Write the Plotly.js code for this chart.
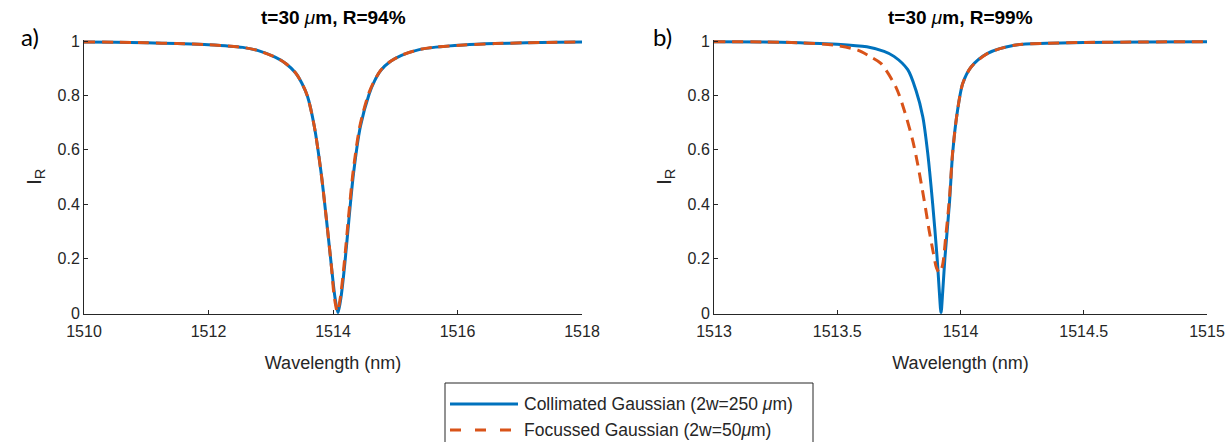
<!DOCTYPE html>
<html>
<head>
<meta charset="utf-8">
<script src="https://cdn.plot.ly/plotly-3.0.1.min.js"></script>
<style>html,body{margin:0;padding:0;background:#fff;}#chart{width:1228px;height:442px;}</style>
</head>
<body>
<div id="chart"></div>
<script>
// ---- Data ----
// Panel a) t=30 um, R=94%
var waveA_col = [1510, 1510.5, 1511, 1511.5, 1512, 1512.55, 1512.8, 1513.07, 1513.24, 1513.4, 1513.5, 1513.59, 1513.7, 1513.81, 1513.89, 1513.97, 1514.03, 1514.08, 1514.13, 1514.19, 1514.26, 1514.33, 1514.44, 1514.58, 1514.67, 1514.77, 1514.92, 1515.1, 1515.37, 1515.65, 1516.1, 1516.6, 1517.1, 1517.6, 1518];
var irA_col   = [0.997, 0.996, 0.994, 0.991, 0.987, 0.977, 0.965, 0.941, 0.918, 0.883, 0.845, 0.797, 0.686, 0.514, 0.354, 0.182, 0.06, 0.0, 0.06, 0.182, 0.354, 0.514, 0.686, 0.805, 0.855, 0.893, 0.925, 0.948, 0.968, 0.978, 0.986, 0.991, 0.994, 0.996, 0.997];
var waveA_foc = [1510, 1510.5, 1511, 1511.5, 1512, 1512.55, 1512.8, 1513.07, 1513.24, 1513.4, 1513.5, 1513.59, 1513.7, 1513.81, 1513.89, 1513.97, 1514.02, 1514.07, 1514.12, 1514.18, 1514.25, 1514.32, 1514.43, 1514.57, 1514.67, 1514.77, 1514.92, 1515.1, 1515.37, 1515.65, 1516.1, 1516.6, 1517.1, 1517.6, 1518];
var irA_foc   = [0.997, 0.996, 0.994, 0.991, 0.987, 0.977, 0.965, 0.941, 0.918, 0.883, 0.845, 0.797, 0.686, 0.514, 0.354, 0.182, 0.06, 0.005, 0.06, 0.182, 0.354, 0.514, 0.686, 0.805, 0.857, 0.894, 0.925, 0.948, 0.968, 0.978, 0.986, 0.991, 0.994, 0.996, 0.997];

// Panel b) t=30 um, R=99%
var waveB_col = [1513, 1513.2, 1513.35, 1513.5, 1513.62, 1513.69, 1513.73, 1513.786, 1513.819, 1513.847, 1513.867, 1513.887, 1513.905, 1513.914, 1513.921, 1513.928, 1513.937, 1513.955, 1513.968, 1513.986, 1514.009, 1514.043, 1514.11, 1514.218, 1514.35, 1514.5, 1514.75, 1515];
var irB_col   = [0.998, 0.997, 0.994, 0.989, 0.979, 0.962, 0.944, 0.895, 0.82, 0.722, 0.588, 0.402, 0.205, 0.08, 0.0, 0.08, 0.205, 0.402, 0.586, 0.733, 0.844, 0.905, 0.955, 0.985, 0.992, 0.995, 0.997, 0.998];
var waveB_foc = [1513, 1513.2, 1513.35, 1513.488, 1513.583, 1513.63, 1513.677, 1513.738, 1513.772, 1513.806, 1513.826, 1513.853, 1513.873, 1513.89, 1513.903, 1513.915, 1513.927, 1513.94, 1513.955, 1513.968, 1513.986, 1514.009, 1514.043, 1514.11, 1514.218, 1514.35, 1514.5, 1514.75, 1515];
var irB_foc   = [0.998, 0.997, 0.994, 0.985, 0.967, 0.945, 0.918, 0.831, 0.745, 0.635, 0.549, 0.413, 0.303, 0.22, 0.165, 0.148, 0.175, 0.28, 0.42, 0.59, 0.733, 0.844, 0.905, 0.955, 0.985, 0.992, 0.995, 0.997, 0.998];

var xTicksA = [1510, 1512, 1514, 1516, 1518];
var xTicksB = [1513, 1513.5, 1514, 1514.5, 1515];
var xTickTextB = ['1513', '1513.5', '1514', '1514.5', '1515'];
var yTicks = [0, 0.2, 0.4, 0.6, 0.8, 1];
var yTickText = ['0', '0.2', '0.4', '0.6', '0.8', '1'];
var seriesNames = ['Collimated Gaussian (2w=250 <i>μ</i>m)', 'Focussed Gaussian (2w=50<i>μ</i>m)'];
var panelTitles = ['<b>t=30 </b><i>μ</i><b>m, R=94%</b>', '<b>t=30 </b><i>μ</i><b>m, R=99%</b>'];
var panelLabels = ['a)', 'b)'];

// ---- Styles ----
var BLUE = '#0072BD', ORANGE = '#D95319', AX = '#262626';
var FONT = 'Liberation Sans, Arial, sans-serif';
var W = 1228, H = 442;
function px(x) { return x / W; }
function py(y) { return (H - y) / H; }
var domA = [px(84), px(582)], domB = [px(714), px(1207)];
var DASH = '11px,7px';

var traces = [
  {x: waveA_col, y: irA_col, xaxis: 'x', yaxis: 'y', mode: 'lines', name: seriesNames[0],
   line: {color: BLUE, width: 3, shape: 'spline', smoothing: 0.8}},
  {x: waveA_foc, y: irA_foc, xaxis: 'x', yaxis: 'y', mode: 'lines', name: seriesNames[1],
   line: {color: ORANGE, width: 3, dash: DASH, shape: 'spline', smoothing: 0.8}},
  {x: waveB_col, y: irB_col, xaxis: 'x2', yaxis: 'y2', mode: 'lines', name: seriesNames[0],
   line: {color: BLUE, width: 3, shape: 'spline', smoothing: 0.8}},
  {x: waveB_foc, y: irB_foc, xaxis: 'x2', yaxis: 'y2', mode: 'lines', name: seriesNames[1],
   line: {color: ORANGE, width: 3, dash: DASH, shape: 'spline', smoothing: 0.8}}
];

function xAxis(domain, ticks, text, range) {
  return {
    domain: domain, range: range, tickmode: 'array', tickvals: ticks, ticktext: text,
    showline: true, linecolor: AX, linewidth: 1, mirror: false, showgrid: false, zeroline: false,
    ticks: 'inside', ticklen: 4, tickcolor: AX, tickfont: {family: FONT, size: 16, color: AX},
    ticklabelstandoff: 3,
    title: {text: 'Wavelength (nm)', font: {family: FONT, size: 18, color: AX}, standoff: 17},
    fixedrange: true
  };
}
function yAxis(anchor) {
  return {
    domain: [0.290, 0.910], range: [-0.003, 1.005], anchor: anchor,
    tickmode: 'array', tickvals: yTicks, ticktext: yTickText,
    showline: true, linecolor: AX, linewidth: 1, showgrid: false, zeroline: false,
    ticks: 'inside', ticklen: 4, tickcolor: AX, tickfont: {family: FONT, size: 16, color: AX},
    ticklabelstandoff: 0,
    title: {text: 'I<sub>R</sub>', font: {family: FONT, size: 21, color: AX}, standoff: 10},
    fixedrange: true
  };
}

// Legend box drawn as decoration (MATLAB-style long line samples)
var LEG = {x0: 445, x1: 813, y0: 383, y1: 452, sx0: 450, sx1: 518, tx: 522, rows: [404, 430]};

var layout = {
  width: W, height: H,
  margin: {l: 0, r: 0, t: 0, b: 0},
  paper_bgcolor: '#ffffff', plot_bgcolor: '#ffffff',
  font: {family: FONT, color: AX},
  xaxis: xAxis(domA, xTicksA, xTicksA.map(String), [1510, 1518]),
  yaxis: yAxis('x'),
  xaxis2: xAxis(domB, xTicksB, xTickTextB, [1513, 1515]),
  yaxis2: yAxis('x2'),
  showlegend: false,
  shapes: [
    {type: 'rect', xref: 'paper', yref: 'paper', x0: px(LEG.x0), x1: px(LEG.x1), y0: py(LEG.y1), y1: py(LEG.y0),
     line: {color: AX, width: 1}, fillcolor: '#ffffff', layer: 'above'},
    {type: 'line', xref: 'paper', yref: 'paper', x0: px(LEG.sx0), x1: px(LEG.sx1), y0: py(LEG.rows[0]), y1: py(LEG.rows[0]),
     line: {color: BLUE, width: 3}, layer: 'above'},
    {type: 'line', xref: 'paper', yref: 'paper', x0: px(LEG.sx0), x1: px(LEG.sx1), y0: py(LEG.rows[1]), y1: py(LEG.rows[1]),
     line: {color: ORANGE, width: 3, dash: '11px,14px'}, layer: 'above'}
  ],
  annotations: [
    {xref: 'paper', yref: 'paper', x: (domA[0] + domA[1]) / 2, y: py(18), text: panelTitles[0], showarrow: false,
     font: {family: FONT, size: 19, color: '#000'}, xanchor: 'center', yanchor: 'middle'},
    {xref: 'paper', yref: 'paper', x: (domB[0] + domB[1]) / 2, y: py(18), text: panelTitles[1], showarrow: false,
     font: {family: FONT, size: 19, color: '#000'}, xanchor: 'center', yanchor: 'middle'},
    {xref: 'paper', yref: 'paper', x: px(30), y: py(36), text: panelLabels[0], showarrow: false,
     font: {family: 'Lato, Open Sans, sans-serif', size: 24, color: '#000'}, xanchor: 'center', yanchor: 'middle'},
    {xref: 'paper', yref: 'paper', x: px(662), y: py(36), text: panelLabels[1], showarrow: false,
     font: {family: 'Lato, Open Sans, sans-serif', size: 24, color: '#000'}, xanchor: 'center', yanchor: 'middle'},
    {xref: 'paper', yref: 'paper', x: px(LEG.tx), y: py(LEG.rows[0]), text: seriesNames[0], showarrow: false,
     font: {family: FONT, size: 17.5, color: AX}, xanchor: 'left', yanchor: 'middle'},
    {xref: 'paper', yref: 'paper', x: px(LEG.tx), y: py(LEG.rows[1]), text: seriesNames[1], showarrow: false,
     font: {family: FONT, size: 17.5, color: AX}, xanchor: 'left', yanchor: 'middle'}
  ]
};

Plotly.newPlot('chart', traces, layout, {staticPlot: true, displayModeBar: false});
</script>
</body>
</html>
